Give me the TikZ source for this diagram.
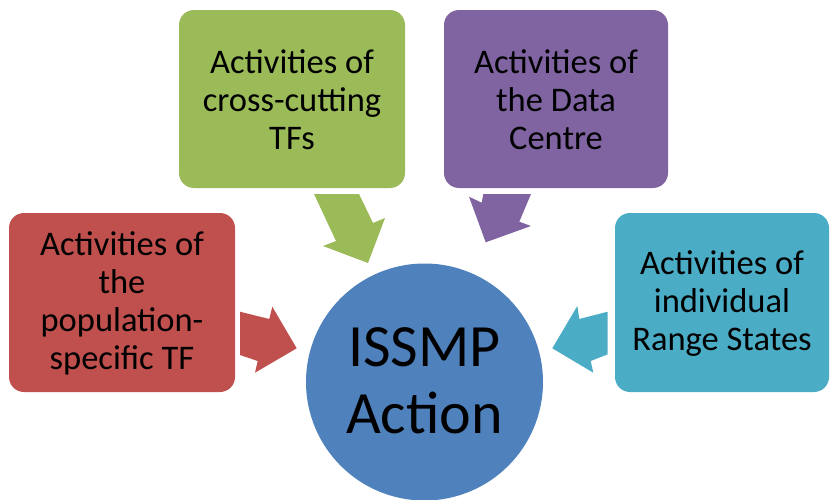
\documentclass[tikz,border=0pt]{standalone}
\usepackage{fontspec}
\setmainfont{Carlito}
\definecolor{cred}{HTML}{C0504D}
\definecolor{cgreen}{HTML}{9BBB59}
\definecolor{cpurple}{HTML}{8064A2}
\definecolor{cteal}{HTML}{4BACC6}
\definecolor{cblue}{HTML}{4F81BD}
\tikzset{
  boxtext/.style={align=center,font=\fontsize{34.5}{38}\selectfont,text=black,inner sep=0pt},
  roundbox/.style={rounded corners=15pt},
}
\begin{document}
\begin{tikzpicture}[x=1pt,y=-1pt]
\useasboundingbox (0,0) rectangle (830,499);
\clip (0,0) rectangle (830,499);
% arrows
\fill[cred] (240,311.7) -- (269.3,319) -- (272.3,306.7) -- (296.7,348.3) -- (255,372.7) -- (257.7,361) -- (240,355) -- cycle;
\fill[cteal] (607.7,311.7) -- (579.3,319) -- (577.3,306) -- (552.3,348.3) -- (593.3,372.7) -- (590.7,361) -- (607.7,354.3) -- cycle;
\fill[cgreen] (314,194) -- (359,194) -- (373,223) -- (385,218) -- (368,263) -- (323,246) -- (336,241) -- cycle;
\fill[cpurple] (483.3,194) -- (531,194) -- (519.3,221.7) -- (531,226) -- (485.7,242.3) -- (469,196.7) -- (481.7,202.7) -- cycle;
% boxes
\fill[cred,roundbox] (9,213) rectangle (235,392);
\fill[cgreen,roundbox] (179,10) rectangle (405,188);
\fill[cpurple,roundbox] (444,10) rectangle (668,188);
\fill[cteal,roundbox] (615,213) rectangle (829,392);
\node[boxtext] (red) at (122,303.5) {Activities of\\the\\population-\\specific TF};
\node[boxtext] (green) at (292,100) {Activities of\\cross-cutting\\TFs};
\node[boxtext] (purple) at (556,100) {Activities of\\the Data\\Centre};
\node[boxtext] (teal) at (722,303.5) {Activities of\\individual\\Range States};
% circle
\fill[cblue] (424.5,382) circle[radius=118.5];
\node[align=center,font=\fontsize{60}{67}\selectfont,inner sep=0pt] (core) at (424.5,381) {ISSMP\\Action};
\end{tikzpicture}
\end{document}
